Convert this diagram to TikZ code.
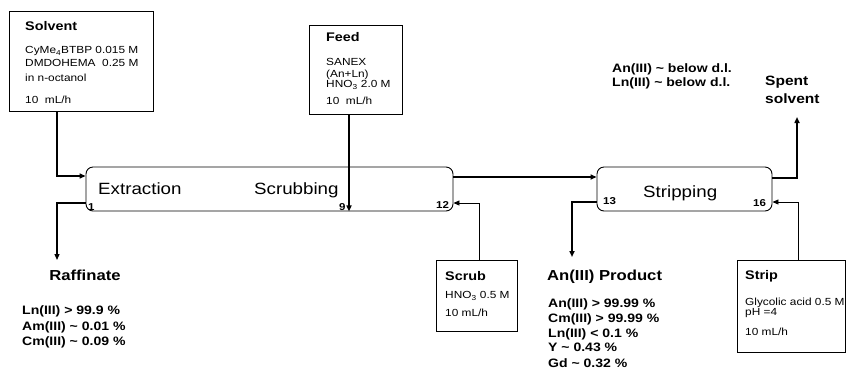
\documentclass[tikz,border=0pt]{standalone}
\usepackage{fontspec}
\setmainfont{Liberation Sans}[FakeStretch=1.15]
\usetikzlibrary{arrows.meta}
\newcommand\myfs[1]{\fontsize{#1}{#1}\selectfont}
\begin{document}
\begin{tikzpicture}[x=1pt,y=-1pt,
  inbox/.style={draw, line width=0.9pt, inner sep=0pt},
  contactor/.style={draw, rounded corners=7pt, line width=0.9pt, inner sep=0pt},
  tip/.style={-{Triangle[length=6pt,width=5pt]}},
  flowthick/.style={tip, line width=1.6pt},
  flowmid/.style={tip, line width=1.2pt},
  flowthin/.style={tip, line width=0.8pt},
  lbl/.style={anchor=base west, inner sep=0pt},
  boxtitle/.style={lbl, font=\bfseries\myfs{12.5}},
  boxbody/.style={lbl, font=\myfs{10.3}},
  outhead/.style={lbl, font=\bfseries\myfs{14.5}},
  outline/.style={lbl, font=\bfseries\myfs{12.2}},
  stagename/.style={lbl, font=\myfs{16.3}},
  stagenum/.style={lbl, font=\bfseries\myfs{10}}
]
\useasboundingbox (0,0) rectangle (846,376);

% contactors
\node[contactor, minimum width=367pt, minimum height=44pt] (ext) at (269.5,189) {};
\node[contactor, minimum width=175pt, minimum height=44pt] (stripc) at (684.5,189) {};
\node[stagename] (lext) at (98,194) {Extraction};
\node[stagename] (lscr) at (254,194) {Scrubbing};
\node[stagename] (lstr) at (643,197) {Stripping};
\node[stagenum] (n1) at (88,210.6) {1};
\node[stagenum] (n9) at (339,210.6) {9};
\node[stagenum] (n12) at (436,208.6) {12};
\node[stagenum] (n13) at (603,204.6) {13};
\node[stagenum] (n16) at (753,206.6) {16};

% solvent box
\node[inbox, minimum width=144pt, minimum height=100pt] (solv) at (81,61) {};
\node[boxtitle] (tsolv) at (25,30.5) {Solvent};
\node[boxbody] (s1) at (25,53.7) {CyMe\textsubscript{4}BTBP 0.015 M};
\node[boxbody] (s2) at (25,66.7) {DMDOHEMA\ \ 0.25 M};
\node[boxbody] (s3) at (25,81.7) {in n-octanol};
\node[boxbody] (s4) at (25,103.7) {10\ \ mL/h};

% feed box
\node[inbox, minimum width=93pt, minimum height=89pt] (feed) at (355.5,69.5) {};
\node[boxtitle] (tfeed) at (326,41.5) {Feed};
\node[boxbody] (f1) at (326,65.7) {SANEX};
\node[boxbody] (f2) at (326,77) {(An+Ln)};
\node[boxbody] (f3) at (326,87.7) {HNO\textsubscript{3} 2.0 M};
\node[boxbody] (f4) at (326,104.4) {10\ \ mL/h};

% scrub box
\node[inbox, minimum width=81pt, minimum height=71pt] (scrub) at (476.5,295.5) {};
\node[boxtitle] (tscrub) at (445,280.5) {Scrub};
\node[boxbody] (c1) at (445,298.7) {HNO\textsubscript{3} 0.5 M};
\node[boxbody] (c2) at (445,316.7) {10 mL/h};

% strip box
\node[inbox, minimum width=108pt, minimum height=92pt] (stripbox) at (791,306) {};
\node[boxtitle] (tstrip) at (745,279.5) {Strip};
\node[boxbody] (p1) at (745,305.7) {Glycolic acid 0.5 M};
\node[boxbody] (p2) at (745,315.7) {pH =4};
\node[boxbody] (p3) at (745,335.7) {10 mL/h};

% outputs
\node[outhead, anchor=base] (traff) at (85,280) {Raffinate};
\node[outline] (r1) at (22,314.4) {Ln(III) > 99.9 \%};
\node[outline] (r2) at (22,330.4) {Am(III) \textasciitilde\ 0.01 \%};
\node[outline] (r3) at (22,345.4) {Cm(III) \textasciitilde\ 0.09 \%};

\node[outhead] (tprod) at (547,280) {An(III) Product};
\node[outline] (q1) at (548,307.4) {An(III) > 99.99 \%};
\node[outline] (q2) at (548,322.4) {Cm(III) > 99.99 \%};
\node[outline] (q3) at (548,337.4) {Ln(III) < 0.1 \%};
\node[outline] (q4) at (548,351.4) {Y \textasciitilde\ 0.43 \%};
\node[outline] (q5) at (548,367.4) {Gd \textasciitilde\ 0.32 \%};

\node[outline] (d1) at (612,72) {An(III) \textasciitilde\ below d.l.};
\node[outline] (d2) at (612,86) {Ln(III) \textasciitilde\ below d.l.};
\node[outhead, font=\bfseries\myfs{13.5}] (tsp1) at (765,85) {Spent};
\node[outhead, font=\bfseries\myfs{13.5}] (tsp2) at (765,103) {solvent};

% connectors
\coordinate (raffend) at (57,260);
\coordinate (prodend) at (572,257);
\coordinate (spentend) at (797,117);
\draw[flowmid, line width=1.4pt] (57,0 |- solv.south) |- (ext.west |- 0,176);
\draw[flowthick] (349,0 |- feed.south) -- (349,0 |- ext.south);
\draw[flowmid] (ext.west |- 0,203) -| (raffend);
\draw[flowthin] (479,0 |- scrub.north) |- (ext.east |- 0,203);
\draw[flowthick] (ext.east |- 0,177) -- (stripc.west |- 0,177);
\draw[flowthick] (stripc.west |- 0,202) -| (prodend);
\draw[flowthick] (stripc.east |- 0,178) -| (spentend);
\draw[flowthin] (798,0 |- stripbox.north) |- (stripc.east |- 0,202);
\end{tikzpicture}
\end{document}
